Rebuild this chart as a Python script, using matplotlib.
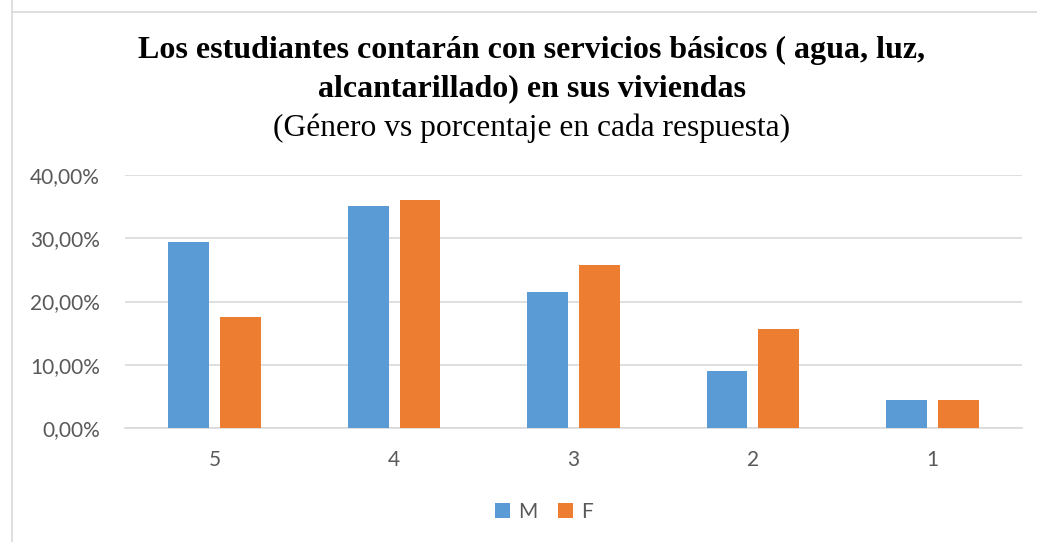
import matplotlib.pyplot as plt
import matplotlib.patches as mpatches
from matplotlib.ticker import FuncFormatter
import numpy as np

categories = ['5', '4', '3', '2', '1']
m_vals = [29.4, 35.1, 21.5, 9.0, 4.4]
f_vals = [17.5, 36.0, 25.8, 15.6, 4.4]

blue = '#5B9BD5'
orange = '#ED7D31'
grey_txt = '#595959'

fig = plt.figure(figsize=(10.37, 5.42), dpi=100)
fig.patch.set_facecolor('white')

# chart border (cropped on right/bottom in the reference)
fig.add_artist(mpatches.Rectangle((12 / 1037, -0.1), 2.0, 2.0, transform=fig.transFigure,
                                  fill=False, edgecolor='#D9D9D9', lw=1.2))
fig.add_artist(plt.Line2D([12 / 1037, 1.0], [1 - 12 / 542, 1 - 12 / 542],
                          transform=fig.transFigure, color='#D9D9D9', lw=1.2))

ax = fig.add_axes([125 / 1037, 1 - 428 / 542, (1022 - 125) / 1037, (428 - 175) / 542])

x = np.arange(len(categories))
w = 0.228
gap = 0.061
ax.bar(x - (w + gap) / 2, m_vals, w, color=blue, label='M', zorder=3)
ax.bar(x + (w + gap) / 2, f_vals, w, color=orange, label='F', zorder=3)

ax.set_xlim(-0.5, len(categories) - 0.5)
ax.set_ylim(0, 40)
ax.set_yticks([0, 10, 20, 30, 40])
ax.yaxis.set_major_formatter(FuncFormatter(lambda v, p: ('%.2f%%' % v).replace('.', ',')))
ax.set_xticks(x)
ax.set_xticklabels(categories)
ax.grid(axis='y', color='#D9D9D9', lw=1.2, zorder=0)
for s in ['top', 'right', 'left']:
    ax.spines[s].set_visible(False)
ax.spines['bottom'].set_color('#D9D9D9')
ax.spines['bottom'].set_linewidth(1.2)
ax.tick_params(length=0, labelsize=15, labelcolor=grey_txt)
ax.tick_params(axis='y', pad=18)
ax.tick_params(axis='x', pad=16)
for lab in ax.get_xticklabels() + ax.get_yticklabels():
    lab.set_family('Lato')

tx = 532 / 1037
fig.text(tx, 1 - 50 / 542, 'Los estudiantes contarán con servicios básicos ( agua, luz,',
         ha='center', va='center', fontsize=23, fontweight='bold', family='Liberation Serif')
fig.text(tx, 1 - 89 / 542, 'alcantarillado) en sus viviendas',
         ha='center', va='center', fontsize=23, fontweight='bold', family='Liberation Serif')
fig.text(tx, 1 - 128 / 542, '(Género vs porcentaje en cada respuesta)', ha='center', va='center',
         fontsize=22.7, family='Liberation Serif')

fig.legend(loc='center', bbox_to_anchor=(544 / 1037, 1 - 512 / 542), ncol=2, frameon=False,
           handlelength=0.7, handleheight=0.7, handletextpad=0.4, columnspacing=1.0,
           prop={'family': 'Lato', 'size': 15}, labelcolor=grey_txt)

fig.savefig('out.png', dpi=100, facecolor='white')
